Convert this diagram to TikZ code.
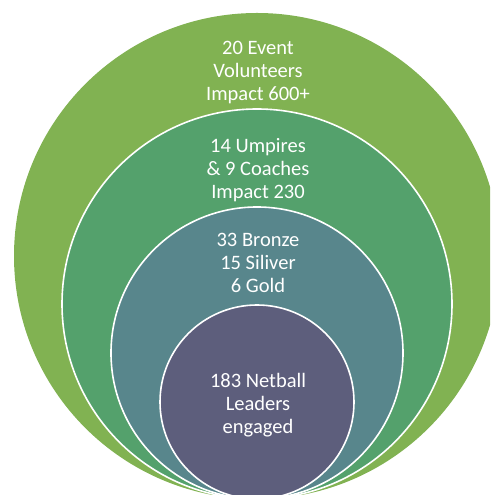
\documentclass[tikz,border=0pt]{standalone}
\usepackage{fontspec}
\setmainfont{Carlito}
\definecolor{ringA}{RGB}{129,178,82}
\definecolor{ringB}{RGB}{84,161,108}
\definecolor{ringC}{RGB}{88,134,140}
\definecolor{ringD}{RGB}{93,94,124}
\begin{document}
\begin{tikzpicture}[x=1pt,y=1pt,line join=round,line cap=round,
	ring/.style={draw=white,line width=1.6pt},
	lbl/.style={text=white,align=center,font=\fontsize{20.5}{23}\selectfont,inner sep=0pt}]
	\def\ra{243} % vong ngoai
	\def\rb{195}
	\def\rc{146}
	\def\rd{97} % vong trong
	\clip (0,0) rectangle (490,495);
	\path
	(257,-4) coordinate (T)
	(257,-4+\ra) coordinate (A)
	(257,-4+\rb) coordinate (B)
	(257,-4+\rc) coordinate (C)
	(257,-4+\rd) coordinate (D);
	% cac vong tron tiep xuc o day
	\fill[ringA] (A) circle (\ra);
	\filldraw[ring,fill=ringB] (B) circle (\rb);
	\filldraw[ring,fill=ringC] (C) circle (\rc);
	\filldraw[ring,fill=ringD] (D) circle (\rd);
	% chu
	\node[lbl] (ta) at (258,422) {20 Event\\Volunteers\\Impact 600+};
	\node[lbl] (tb) at (258,325) {14 Umpires\\\& 9 Coaches\\Impact 230};
	\node[lbl] (tc) at (258,232) {33 Bronze\\15 Siliver\\6 Gold};
	\node[lbl] (td) at (258,90) {183 Netball\\Leaders\\engaged};
\end{tikzpicture}
\end{document}
